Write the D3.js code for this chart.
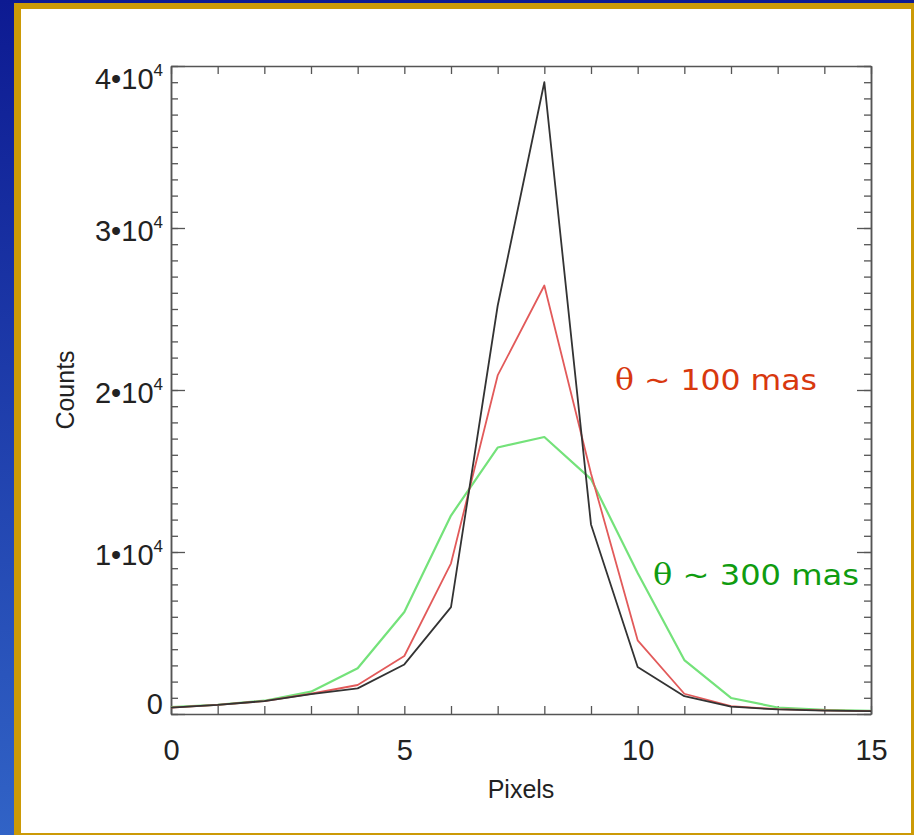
<!DOCTYPE html>
<html>
<head>
<meta charset="utf-8">
<script src="https://cdn.jsdelivr.net/npm/d3@7"></script>
<style>
  body { margin: 0; background: #1a2f9e; }
</style>
</head>
<body>
<svg id="drawing_region"></svg>
<script>
// pixel positions along the cut
const pixels = [0, 1, 2, 3, 4, 5, 6, 7, 8, 9, 10, 11, 12, 13, 14, 15];
// counts
const countsBlack = [390, 560, 800, 1230, 1580, 3060, 6600, 25200, 39000, 11700, 2900, 1100, 450, 280, 210, 180];
const countsRed   = [390, 560, 800, 1250, 1790, 3580, 9300, 20900, 26450, 14850, 4550, 1250, 480, 300, 220, 180];
const countsGreen = [420, 570, 820, 1380, 2820, 6300, 12250, 16450, 17100, 14500, 8700, 3330, 990, 400, 250, 200];

const xTicks = [0, 1, 2, 3, 4, 5, 6, 7, 8, 9, 10, 11, 12, 13, 14, 15];
const xTickLabels = ['0', '5', '10', '15'];
const yTicks = [0, 10000, 20000, 30000, 40000];
const yTickLabels = ['0', '1•10', '2•10', '3•10', '4•10'];
const yTickExp = '4';

const seriesLabels = [['θ', ' ~ 100 mas'], ['θ', ' ~ 300 mas']];

class ProfileChart {
    constructor(config, series) {
        this.config = config;
        this.series = series;
        this.init();
    }
    init() {
        let self = this;
        self.svg = d3.select(self.config.parent)
            .attr('width', self.config.width)
            .attr('height', self.config.height);

        // slide background
        const defs = self.svg.append('defs');
        const grad = defs.append('linearGradient')
            .attr('id', 'bg').attr('x1', 0).attr('y1', 0).attr('x2', 0).attr('y2', 1);
        grad.append('stop').attr('offset', '0%').attr('stop-color', '#0d1a92');
        grad.append('stop').attr('offset', '100%').attr('stop-color', '#3163c6');

        self.svg.append('rect')
            .attr('width', self.config.width).attr('height', self.config.height)
            .attr('fill', 'url(#bg)');
        self.svg.append('rect')
            .attr('x', 14).attr('y', 3).attr('width', 900).attr('height', 840)
            .attr('fill', '#cc9a06');
        self.svg.append('rect')
            .attr('x', 21).attr('y', 9).attr('width', 890).attr('height', 824)
            .attr('fill', '#ffffff');

        self.xscale = d3.scaleLinear()
            .domain([0, 15])
            .range([171, 871]);
        self.yscale = d3.scaleLinear()
            .domain([0, 40000])
            .range([714, 66]);

        self.line = d3.line()
            .x((d, i) => self.xscale(pixels[i]))
            .y(d => self.yscale(d));
    }
    render() {
        let self = this;
        const axisColor = '#555';
        const font = '"Liberation Sans", Arial, sans-serif';

        const styleAxis = g => {
            g.select('.domain').attr('stroke', axisColor).attr('stroke-width', 1.5);
            g.selectAll('.tick line').attr('stroke', axisColor).attr('stroke-width', 1.3);
        };

        // bottom axis, ticks pointing in
        const xb = self.svg.append('g')
            .attr('transform', 'translate(0,714)')
            .call(d3.axisBottom(self.xscale).tickValues(xTicks).tickSize(-8).tickSizeOuter(0)
                .tickFormat(d => d % 5 === 0 ? xTickLabels[d / 5] : ''))
            .call(styleAxis);
        xb.selectAll('.tick text')
            .attr('y', 46).attr('dy', 0)
            .attr('font-size', 29).attr('font-family', font).attr('fill', '#222');

        // top axis
        self.svg.append('g')
            .attr('transform', 'translate(0,66)')
            .call(d3.axisTop(self.xscale).tickValues(xTicks).tickSize(-8).tickSizeOuter(0).tickFormat(''))
            .call(styleAxis);

        // left axis: minor then major
        const minor = d3.range(0, 40001, 1000);
        self.svg.append('g')
            .attr('transform', 'translate(171,0)')
            .call(d3.axisLeft(self.yscale).tickValues(minor).tickSize(-7).tickSizeOuter(0).tickFormat(''))
            .call(styleAxis);
        const yl = self.svg.append('g')
            .attr('transform', 'translate(171,0)')
            .call(d3.axisLeft(self.yscale).tickValues(yTicks).tickSize(-14).tickSizeOuter(0)
                .tickFormat((d, i) => yTickLabels[i]))
            .call(styleAxis);
        yl.selectAll('.tick text')
            .attr('x', -8)
            .attr('dy', 0)
            .attr('y', (d, i) => i === 0 ? -1 : (i === yTicks.length - 1 ? 22 : 12))
            .attr('font-size', 29).attr('font-family', font).attr('fill', '#222')
            .each(function(d, i) {
                if (i === 0) return;
                d3.select(this).append('tspan')
                    .attr('dy', -13).attr('font-size', 17)
                    .text(yTickExp);
            });

        // right axis
        self.svg.append('g')
            .attr('transform', 'translate(871,0)')
            .call(d3.axisRight(self.yscale).tickValues(minor).tickSize(-7).tickSizeOuter(0).tickFormat(''))
            .call(styleAxis);
        self.svg.append('g')
            .attr('transform', 'translate(871,0)')
            .call(d3.axisRight(self.yscale).tickValues(yTicks).tickSize(-14).tickSizeOuter(0).tickFormat(''))
            .call(styleAxis);

        // axis titles
        self.svg.append('text')
            .attr('x', 521).attr('y', 798)
            .attr('text-anchor', 'middle')
            .attr('font-size', 25).attr('font-family', font).attr('fill', '#222')
            .text('Pixels');
        self.svg.append('text')
            .attr('transform', 'translate(74,390) rotate(-90)')
            .attr('text-anchor', 'middle')
            .attr('font-size', 25).attr('font-family', font).attr('fill', '#222')
            .text('Counts');

        // profiles
        const colors = { black: '#333333', red: '#e25a5a', green: '#74e27a' };
        const order = ['green', 'red', 'black'];
        order.forEach(name => {
            self.svg.append('path')
                .attr('d', self.line(self.series[name]))
                .attr('fill', 'none')
                .attr('stroke', colors[name])
                .attr('stroke-width', name === 'green' ? 2.2 : 1.8)
                .attr('stroke-linejoin', 'round');
        });

        // annotations
        const labelFont = 'Tahoma, "DejaVu Sans", sans-serif';
        const addLabel = (parts, x, y, width, color) => {
            const t = self.svg.append('text')
                .attr('x', x).attr('y', y)
                .attr('font-size', 29).attr('font-family', labelFont)
                .attr('fill', color)
                .attr('textLength', width).attr('lengthAdjust', 'spacingAndGlyphs');
            t.append('tspan').attr('font-family', '"DejaVu Serif", "Liberation Serif", serif').text(parts[0]);
            t.append('tspan').text(parts[1]);
        };
        addLabel(seriesLabels[0], 615, 390, 202, '#d8380e');
        addLabel(seriesLabels[1], 653, 585, 206, '#0f9c10');
    }
}

const chart = new ProfileChart(
    { parent: '#drawing_region', width: 914, height: 835 },
    { black: countsBlack, red: countsRed, green: countsGreen }
);
chart.render();
</script>
</body>
</html>
